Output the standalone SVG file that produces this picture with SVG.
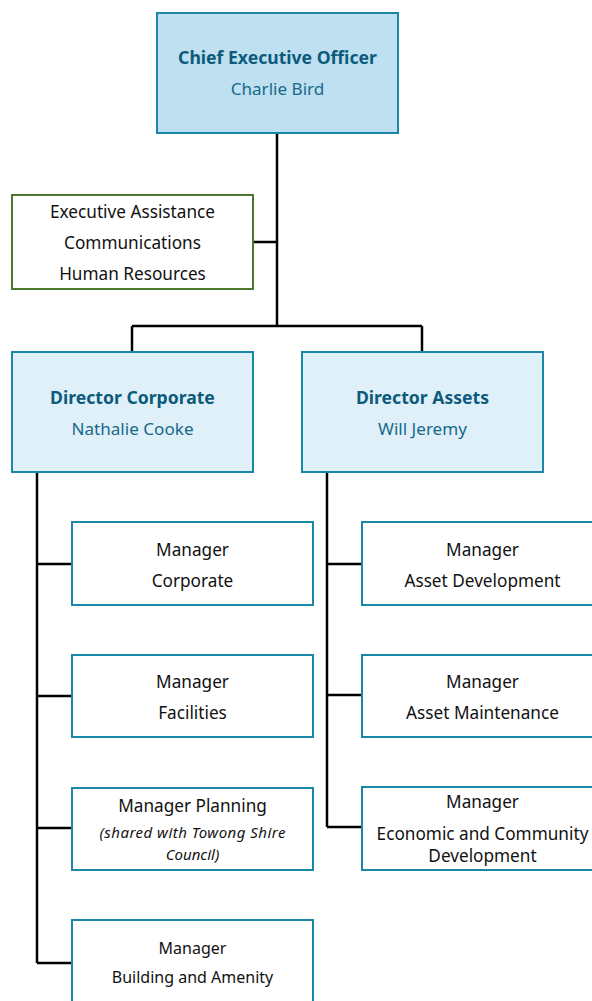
<svg xmlns="http://www.w3.org/2000/svg" width="592" height="1001" viewBox="0 0 592 1001">
<style>
.box{fill:#ffffff;stroke:#1a87a8;stroke-width:2}
.top{fill:#bee0f0;stroke:#1a87a8;stroke-width:2}
.dir{fill:#dff0f8;stroke:#1a87a8;stroke-width:2}
.grn{fill:#ffffff;stroke:#4c7a2c;stroke-width:2}
.ln{stroke:#000;stroke-width:2.5;fill:none}
text{font-family:"Noto Sans","Open Sans",sans-serif;text-anchor:middle;dominant-baseline:central}
.t{font-size:17.6px;font-weight:bold;fill:#0d5b7c}
.n{font-size:17.1px;fill:#17698c}
.b{font-size:17.2px;fill:#111}
.i{font-size:15px;font-style:italic;fill:#111}
.s{font-size:16px;fill:#111}
</style>
<g id="connectors">
<path class="ln" d="M277 133 V326 M132 326 H422 M132 326 V352 M422 326 V352 M253 242 H277"/>
<path class="ln" d="M37 472 V963 M37 564 H72 M37 696 H72 M37 828 H72 M37 963 H72"/>
<path class="ln" d="M327 472 V827 M327 564 H362 M327 695 H362 M327 827 H362"/>
</g>
<g id="ceo"><rect class="top" x="157" y="13" width="241" height="120"/>
<text class="t" x="277.5" y="57">Chief Executive Officer</text>
<text class="n" x="277.5" y="88">Charlie Bird</text></g>
<g id="exec"><rect class="grn" x="12" y="195" width="241" height="94"/>
<text class="b" x="132.5" y="211">Executive Assistance</text>
<text class="b" x="132.5" y="242">Communications</text>
<text class="b" x="132.5" y="273">Human Resources</text></g>
<g id="dircorp"><rect class="dir" x="12" y="352" width="241" height="120"/>
<text class="t" x="132.5" y="397">Director Corporate</text>
<text class="n" x="132.5" y="428">Nathalie Cooke</text></g>
<g id="dirassets"><rect class="dir" x="302" y="352" width="241" height="120"/>
<text class="t" x="422.5" y="397">Director Assets</text>
<text class="n" x="422.5" y="428">Will Jeremy</text></g>
<g id="mcorp"><rect class="box" x="72" y="522" width="241" height="83"/>
<text class="b" x="192.5" y="549">Manager</text>
<text class="b" x="192.5" y="580">Corporate</text></g>
<g id="mfac"><rect class="box" x="72" y="655" width="241" height="82"/>
<text class="b" x="192.5" y="681">Manager</text>
<text class="b" x="192.5" y="712">Facilities</text></g>
<g id="mplan"><rect class="box" x="72" y="788" width="241" height="82"/>
<text class="b" x="192.5" y="805">Manager Planning</text>
<text class="i" x="192.5" y="832" textLength="186" lengthAdjust="spacing">(shared with Towong Shire</text>
<text class="i" x="192.5" y="854">Council)</text></g>
<g id="mbuild"><rect class="box" x="72" y="920" width="241" height="90"/>
<text class="s" x="192.5" y="948">Manager</text>
<text class="s" x="192.5" y="977">Building and Amenity</text></g>
<g id="madev"><rect class="box" x="362" y="522" width="241" height="83"/>
<text class="b" x="482.5" y="549">Manager</text>
<text class="b" x="482.5" y="580">Asset Development</text></g>
<g id="mamaint"><rect class="box" x="362" y="655" width="241" height="82"/>
<text class="b" x="482.5" y="681">Manager</text>
<text class="b" x="482.5" y="712">Asset Maintenance</text></g>
<g id="mecon"><rect class="box" x="362" y="787" width="241" height="83"/>
<text class="b" x="482.5" y="801">Manager</text>
<text class="b" x="482.5" y="833">Economic and Community</text>
<text class="b" x="482.5" y="855">Development</text></g>
</svg>
